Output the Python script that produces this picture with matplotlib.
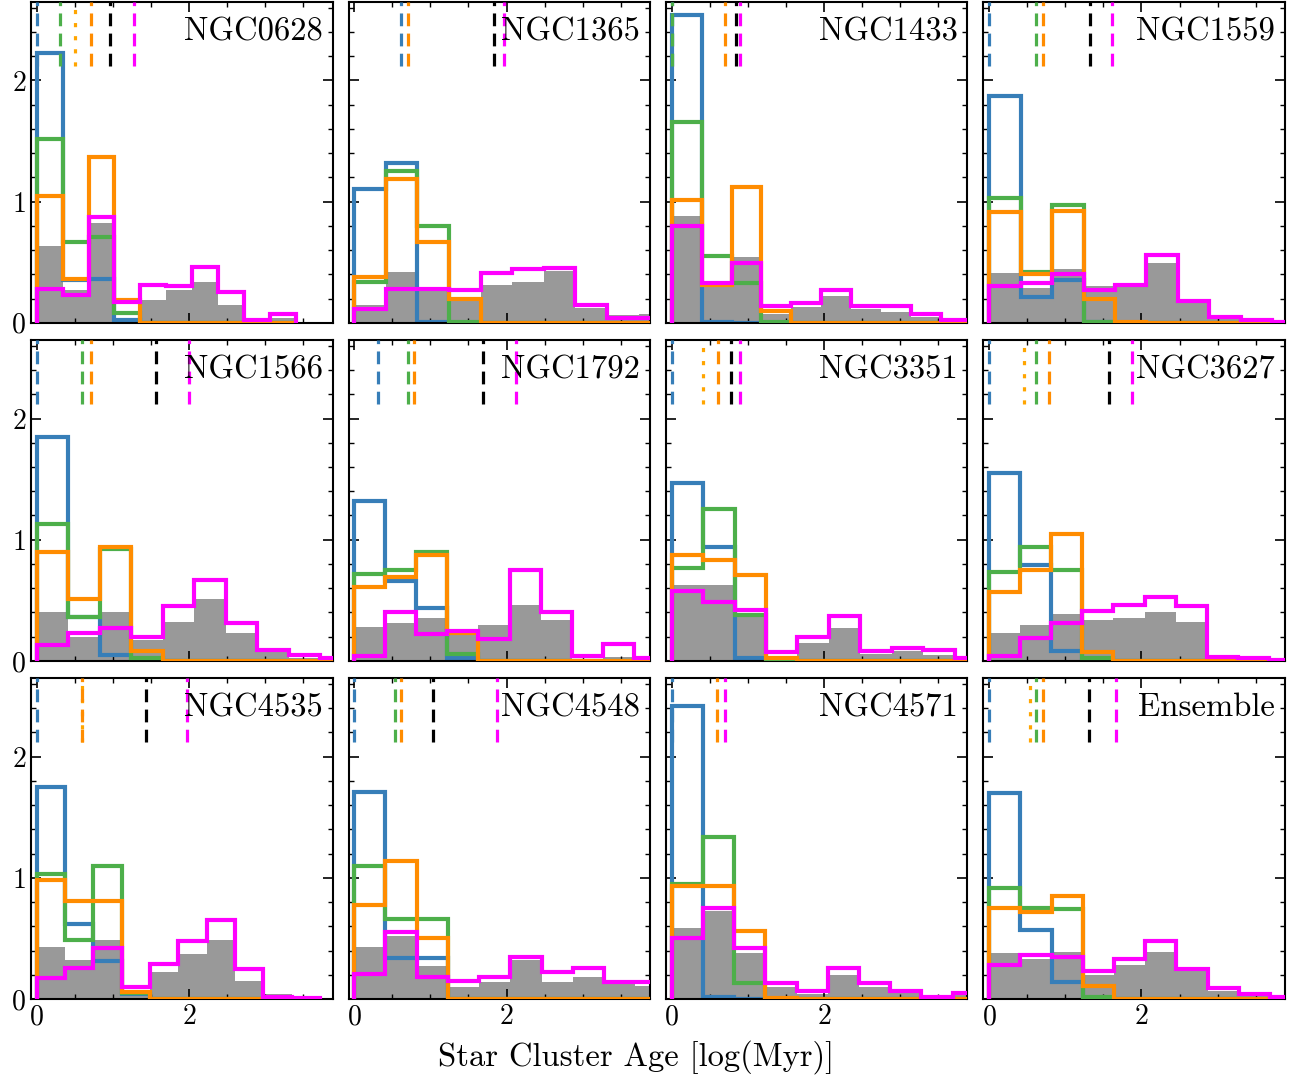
import numpy as np
import matplotlib
matplotlib.use("Agg")
import matplotlib.pyplot as plt

plt.rcParams['font.family'] = ['cmr10', 'DejaVu Serif']
plt.rcParams['mathtext.fontset'] = 'cm'
plt.rcParams['axes.formatter.use_mathtext'] = True

names = ["NGC0628", "NGC1365", "NGC1433", "NGC1559",
         "NGC1566", "NGC1792", "NGC3351", "NGC3627",
         "NGC4535", "NGC4548", "NGC4571", "Ensemble"]

# bin width per panel (bins start at 0, 10 bins each)
bin_widths = [0.34, 0.415, 0.393, 0.413,
              0.414, 0.408, 0.413, 0.408,
              0.372, 0.41, 0.41, 0.41]

blue = [
    [2.23, 0.35, 0.36, 0.02, 0, 0, 0, 0, 0, 0],
    [1.10, 1.32, 0.01, 0, 0, 0, 0, 0, 0, 0],
    [2.54, 0.01, 0, 0, 0, 0, 0, 0, 0, 0],
    [1.87, 0.21, 0.35, 0.01, 0, 0, 0, 0, 0, 0],
    [1.85, 0.36, 0.05, 0, 0, 0, 0, 0, 0, 0],
    [1.32, 0.66, 0.44, 0.02, 0, 0, 0, 0, 0, 0],
    [1.47, 0.94, 0.02, 0, 0, 0, 0, 0, 0, 0],
    [1.55, 0.79, 0.08, 0, 0, 0, 0, 0, 0, 0],
    [1.75, 0.62, 0.31, 0.04, 0, 0, 0, 0, 0, 0],
    [1.71, 0.34, 0.34, 0, 0, 0, 0, 0, 0, 0],
    [2.42, 0.02, 0, 0, 0, 0, 0, 0, 0, 0],
    [1.70, 0.57, 0.14, 0, 0, 0, 0, 0, 0, 0],
]
green = [
    [1.52, 0.67, 0.71, 0.08, 0, 0, 0, 0, 0, 0],
    [0.34, 1.25, 0.80, 0.01, 0, 0, 0, 0, 0, 0],
    [1.66, 0.55, 0.33, 0.01, 0, 0, 0, 0, 0, 0],
    [1.03, 0.42, 0.97, 0.01, 0, 0, 0, 0, 0, 0],
    [1.13, 0.36, 0.92, 0.02, 0, 0, 0, 0, 0, 0],
    [0.72, 0.75, 0.90, 0.06, 0, 0, 0, 0, 0, 0],
    [0.77, 1.25, 0.38, 0.01, 0, 0, 0, 0, 0, 0],
    [0.73, 0.94, 0.75, 0.02, 0, 0, 0, 0, 0, 0],
    [1.03, 0.49, 1.10, 0.05, 0, 0, 0, 0, 0, 0],
    [1.10, 0.66, 0.66, 0, 0, 0, 0, 0, 0, 0],
    [0.95, 1.34, 0.13, 0, 0, 0, 0, 0, 0, 0],
    [0.92, 0.75, 0.74, 0.02, 0, 0, 0, 0, 0, 0],
]
orange = [
    [1.05, 0.36, 1.37, 0.19, 0, 0, 0, 0, 0, 0],
    [0.38, 1.19, 0.67, 0.20, 0, 0, 0, 0, 0, 0],
    [1.01, 0.31, 1.12, 0.10, 0, 0, 0, 0, 0, 0],
    [0.91, 0.40, 0.92, 0.20, 0.01, 0, 0, 0, 0, 0],
    [0.90, 0.51, 0.94, 0.08, 0, 0, 0, 0, 0, 0],
    [0.61, 0.69, 0.87, 0.23, 0, 0, 0, 0, 0, 0],
    [0.87, 0.83, 0.71, 0.02, 0, 0, 0, 0, 0, 0],
    [0.57, 0.75, 1.05, 0.07, 0, 0, 0, 0, 0, 0],
    [0.98, 0.81, 0.81, 0.06, 0, 0, 0, 0, 0, 0],
    [0.78, 1.14, 0.50, 0, 0, 0, 0, 0, 0, 0],
    [0.93, 0.93, 0.56, 0.01, 0, 0, 0, 0, 0, 0],
    [0.75, 0.72, 0.85, 0.11, 0, 0, 0, 0, 0, 0],
]
magenta = [
    [0.28, 0.23, 0.87, 0.17, 0.31, 0.30, 0.46, 0.25, 0.02, 0.07],
    [0.11, 0.28, 0.28, 0.27, 0.41, 0.44, 0.45, 0.15, 0.04, 0.04],
    [0.80, 0.33, 0.49, 0.14, 0.16, 0.27, 0.14, 0.14, 0.07, 0.02],
    [0.30, 0.33, 0.40, 0.27, 0.31, 0.56, 0.18, 0.05, 0.02, 0.01],
    [0.13, 0.23, 0.27, 0.20, 0.45, 0.67, 0.31, 0.09, 0.05, 0.02],
    [0.04, 0.40, 0.22, 0.25, 0.18, 0.75, 0.40, 0.04, 0.14, 0.02],
    [0.58, 0.49, 0.42, 0.07, 0.20, 0.37, 0.08, 0.11, 0.09, 0.02],
    [0.04, 0.19, 0.31, 0.41, 0.46, 0.53, 0.45, 0.03, 0.02, 0.01],
    [0.17, 0.26, 0.42, 0.10, 0.29, 0.48, 0.65, 0.25, 0.02, 0.01],
    [0.21, 0.55, 0.18, 0.15, 0.18, 0.35, 0.22, 0.26, 0.14, 0.14],
    [0.50, 0.75, 0.42, 0.13, 0.07, 0.26, 0.13, 0.07, 0.02, 0.05],
    [0.28, 0.36, 0.35, 0.23, 0.33, 0.48, 0.25, 0.09, 0.04, 0.02],
]
gray = [
    [0.63, 0.27, 0.82, 0.04, 0.19, 0.27, 0.34, 0.15, 0.01, 0.04],
    [0.15, 0.42, 0.29, 0.18, 0.31, 0.34, 0.43, 0.12, 0.06, 0.07],
    [0.88, 0.30, 0.54, 0.07, 0.13, 0.22, 0.11, 0.09, 0.05, 0.0],
    [0.41, 0.29, 0.44, 0.30, 0.30, 0.49, 0.16, 0.04, 0.02, 0.02],
    [0.40, 0.20, 0.40, 0.17, 0.32, 0.51, 0.23, 0.07, 0.02, 0.01],
    [0.28, 0.31, 0.35, 0.23, 0.30, 0.46, 0.34, 0.01, 0.03, 0.0],
    [0.63, 0.63, 0.37, 0.02, 0.15, 0.27, 0.06, 0.08, 0.05, 0.0],
    [0.23, 0.30, 0.39, 0.34, 0.35, 0.40, 0.32, 0.01, 0.0, 0.0],
    [0.43, 0.32, 0.49, 0.04, 0.22, 0.37, 0.49, 0.15, 0.04, 0.0],
    [0.43, 0.52, 0.27, 0.10, 0.14, 0.32, 0.14, 0.18, 0.13, 0.11],
    [0.59, 0.73, 0.38, 0.10, 0.04, 0.20, 0.10, 0.05, 0.02, 0.04],
    [0.38, 0.33, 0.39, 0.20, 0.28, 0.39, 0.23, 0.07, 0.03, 0.02],
]

# characteristic (median) ages marked at the top of each panel; None = not shown
med_blue = [0.0, 0.61, 0.0, 0.0, 0.0, 0.31, 0.0, 0.0, 0.0, 0.0, 0.0, 0.0]
med_green = [0.31, None, 0.0, 0.61, 0.60, 0.71, None, 0.61, None, 0.54, None, 0.61]
med_orange_dot = [0.50, None, None, None, None, None, 0.41, 0.46, 0.60, None, None, 0.53]
med_orange = [0.71, 0.71, 0.70, 0.71, 0.71, 0.78, 0.61, 0.79, 0.60, 0.61, 0.60, 0.71]
med_black = [0.96, 1.84, 0.84, 1.32, 1.56, 1.69, 0.78, 1.57, 1.44, 1.04, None, 1.31]
med_magenta = [1.28, 1.97, 0.90, 1.61, 2.00, 2.12, 0.90, 1.88, 1.97, 1.87, 0.70, 1.66]

C_BLUE = '#377eb8'
C_GREEN = '#4daf4a'
C_ORANGE = '#ff8c00'
C_ORANGE_L = '#ffa500'
C_MAG = '#ff00ff'
C_GRAY = '#999999'

fig, axes = plt.subplots(3, 4, figsize=(12.99, 10.77), dpi=100, sharex=True, sharey=True)
fig.subplots_adjust(left=0.0239, right=0.9892, top=0.9985, bottom=0.0724,
                    wspace=0.053, hspace=0.053)

dash = (0, (4.0, 2.3))
dot = (0, (1.3, 2.8))

for i, ax in enumerate(axes.flat):
    edges = np.arange(11) * bin_widths[i]
    ax.stairs(gray[i], edges, fill=True, color=C_GRAY, lw=0, zorder=1)
    ax.stairs(blue[i], edges, baseline=0, color=C_BLUE, lw=3, zorder=2)
    ax.stairs(green[i], edges, baseline=0, color=C_GREEN, lw=3, zorder=3)
    ax.stairs(orange[i], edges, baseline=0, color=C_ORANGE, lw=3, zorder=4)
    ax.stairs(magenta[i], edges, baseline=0, color=C_MAG, lw=3, zorder=5)

    for val, col, ls in [(med_blue[i], C_BLUE, dash), (med_green[i], C_GREEN, dash),
                         (med_orange_dot[i], C_ORANGE_L, dot),
                         (med_orange[i], C_ORANGE, dash), (med_black[i], 'black', dash),
                         (med_magenta[i], C_MAG, dash)]:
        if val is not None:
            ax.axvline(val, ymin=0.8, ymax=1.0, color=col, ls=ls, lw=2.3, zorder=6)

    ax.text(0.967, 0.952, names[i], transform=ax.transAxes, ha='right', va='top',
            fontsize=23.5, zorder=7)

    ax.set_xlim(-0.075, 3.885)
    ax.set_ylim(0, 2.65)
    ax.xaxis.set_major_locator(matplotlib.ticker.MultipleLocator(2))
    ax.xaxis.set_minor_locator(matplotlib.ticker.MultipleLocator(0.5))
    ax.yaxis.set_major_locator(matplotlib.ticker.MultipleLocator(1))
    ax.yaxis.set_minor_locator(matplotlib.ticker.MultipleLocator(0.2))
    ax.tick_params(which='both', direction='in', top=True, right=True, labelsize=20)
    ax.tick_params(which='major', length=7, width=1.2)
    ax.tick_params(which='minor', length=3.5, width=1.0)
    for s in ax.spines.values():
        s.set_linewidth(1.5)

fig.text(0.49, 0.019, "Star Cluster Age [log(Myr)]", ha='center', va='center', fontsize=23.5)

fig.savefig("out.png", dpi=100)
